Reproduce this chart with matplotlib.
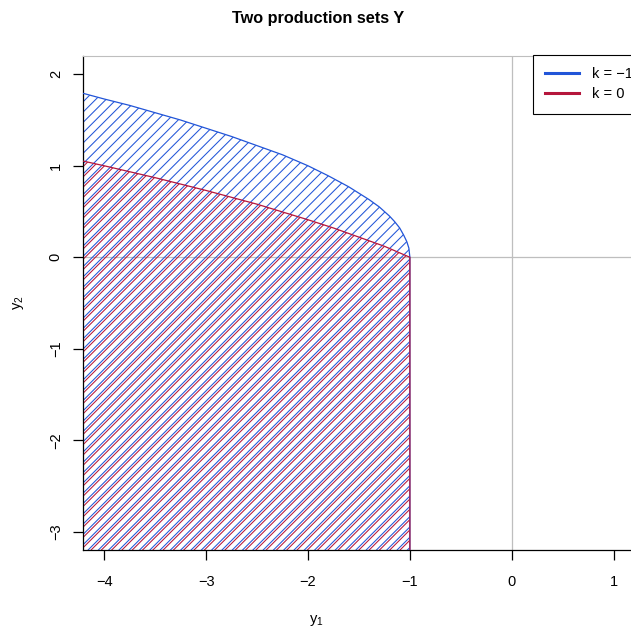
import numpy as np
import matplotlib
matplotlib.use("Agg")
import matplotlib.pyplot as plt
from matplotlib.patches import Polygon
from matplotlib.lines import Line2D

plt.rcParams["font.family"] = ["Liberation Sans", "DejaVu Sans"]
plt.rcParams["mathtext.fontset"] = "custom"
plt.rcParams["mathtext.rm"] = "Liberation Sans"
plt.rcParams["mathtext.it"] = "Liberation Sans"

# boundary of Y for k = -1
y1_blue = [-4.2, -4.0, -3.75, -3.5, -3.25, -3.0, -2.75, -2.5, -2.25, -2.0,
           -1.8, -1.6, -1.4, -1.3, -1.2, -1.15, -1.1, -1.06, -1.03, -1.01, -1.0]
y2_blue = [1.79, 1.73, 1.66, 1.58, 1.50, 1.41, 1.32, 1.22, 1.12, 1.00,
           0.89, 0.77, 0.63, 0.55, 0.45, 0.39, 0.32, 0.24, 0.17, 0.10, 0.0]

# boundary of Y for k = 0
y1_red = [-4.2, -4.0, -3.5, -3.0, -2.5, -2.0, -1.75, -1.5, -1.25, -1.0]
y2_red = [1.05, 1.00, 0.87, 0.73, 0.58, 0.41, 0.32, 0.22, 0.12, 0.0]

labels = ["k = \u22121", "k = 0"]
blue = "#2255d8"
red = "#b5163c"
grey = "#bebebe"

W, H = 631, 632
fig = plt.figure(figsize=(W / 100, H / 100), dpi=100)
ax = fig.add_axes([83 / W, (H - 550) / H, 1 - 83 / W, (550 - 56) / H])
ax.set_xlim(-4.208, 1.17)
ax.set_ylim(-3.2, 2.2)

y_floor = -3.6
x_left = -4.5


def region(xs, ys):
    return [(x_left, ys[0])] + list(zip(xs, ys)) + [(xs[-1], y_floor), (x_left, y_floor)]


fig.canvas.draw()
# pixels per data unit, so the hatch runs at 45 degrees on screen
p0 = ax.transData.transform((0, 0))
p1 = ax.transData.transform((1, 1))
ppx, ppy = p1[0] - p0[0], p1[1] - p0[1]
step = 10.3 / ppx


def hatch(pts, color, offset):
    patch = Polygon(pts, closed=True, facecolor="none", edgecolor=color, lw=0.9, zorder=3)
    ax.add_patch(patch)
    xs = np.array([-6.0, 3.0])
    for c in np.arange(-12, 5, step) + offset:
        ln, = ax.plot(xs, (xs - c) * ppx / ppy, color=color, lw=0.75,
                      clip_path=patch, zorder=2)
        ln.set_clip_box(ax.bbox)


hatch(region(y1_blue, y2_blue), blue, 0.0)
hatch(region(y1_red, y2_red), red, 3.0 / ppx)

ax.axhline(0, color=grey, lw=0.9, zorder=1)
ax.axvline(0, color=grey, lw=0.9, zorder=1)

ax.spines["right"].set_visible(False)
ax.spines["top"].set_color(grey)
ax.spines["left"].set_linewidth(0.9)
ax.spines["bottom"].set_linewidth(0.9)

ax.set_xticks([-4, -3, -2, -1, 0, 1])
ax.set_yticks([-3, -2, -1, 0, 1, 2])
ax.tick_params(direction="out", length=7, width=0.9, labelsize=10.5)
ax.tick_params(axis="x", pad=11)
ax.tick_params(axis="y", pad=7.5)
for t in ax.get_yticklabels():
    t.set_rotation(90)
    t.set_va("center")

fig.text(318 / W, 1 - 18 / H, "Two production sets Y", ha="center", va="center",
         fontsize=11.7, fontweight="bold")
fig.text(316 / W, 1 - 620 / H, "y$_1$", ha="center", va="center", fontsize=10.5)
fig.text(19 / W, 1 - 303 / H, "y$_2$", ha="center", va="center", fontsize=10.5, rotation=90)

handles = [Line2D([], [], color=blue, lw=2.2), Line2D([], [], color=red, lw=2.2)]
leg = ax.legend(handles, labels, loc="upper left", bbox_to_anchor=(0.8206, 1.002),
                borderaxespad=0, fancybox=False, fontsize=10.5, handlelength=2.3,
                handletextpad=0.9, labelspacing=0.4, borderpad=0.85, framealpha=1)
leg.get_frame().set_edgecolor("black")
leg.get_frame().set_linewidth(0.8)

fig.savefig("out.png", dpi=100)
